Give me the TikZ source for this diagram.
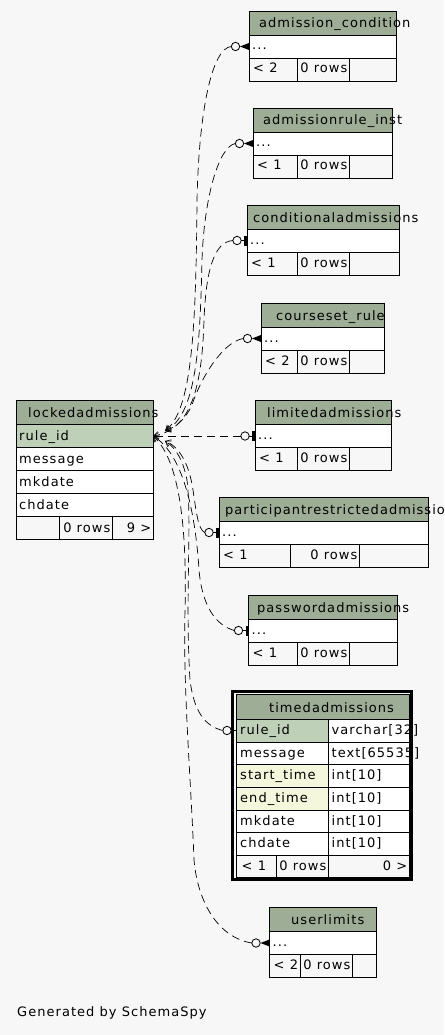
\documentclass[tikz,border=0pt]{standalone}
\usepackage{fontspec}
\setmainfont{DejaVu Sans}[LetterSpace=8]
\usetikzlibrary{arrows.meta,calc}
\definecolor{bg}{HTML}{F7F7F7}
\definecolor{hdr}{HTML}{9EAD96}
\definecolor{keyc}{HTML}{BED1B8}
\definecolor{idxc}{HTML}{F4F7DC}
\tikzset{
  tx/.style={anchor=base west, inner sep=0pt, font=\fontsize{13}{15}\selectfont},
  txr/.style={anchor=base east, inner sep=0pt, font=\fontsize{13}{15}\selectfont},
  cell/.style={draw=black, line width=0.8pt},
  rel/.style={draw=black, line width=0.7pt, dash pattern=on 8pt off 5pt,
    -{Straight Barb[length=5pt,width=7pt,line width=0.6pt]}},
  mk/.style={draw=black, line width=0.8pt, fill=bg},
}
% #1 name #2 left #3 right #4 top #5 split1 #6 split2 #7 title #8 title x #9 footer text
\newcommand\ertab[9]{%
  \fill[hdr] (#2,#4) rectangle (#3,#4+24);
  \fill[white] (#2,#4+24) rectangle (#3,#4+47);
  \draw[cell] (#2,#4) rectangle (#3,#4+70);
  \draw[cell] (#2,#4+24) -- (#3,#4+24) (#2,#4+47) -- (#3,#4+47)
    (#5,#4+47) -- (#5,#4+70) (#6,#4+47) -- (#6,#4+70);
  \node[tx] (#1-h) at (#8,#4+17) {#7};
  \node[tx] (#1-r) at (#2+3,#4+39) {...};
  \node[tx] (#1-f1) at (#2+4,#4+62) {#9};
  \node[txr] (#1-f2) at (#6-1.5,#4+62) {0 rows};
  \coordinate (#1-in) at (#2,#4+35.5);
}
\newcommand\crowmk[1]{%
  \fill ($(#1-in)+(-9,0)$) -- ($(#1-in)+(0,-3.5)$) -- ($(#1-in)+(0,3.5)$) -- cycle;
  \draw[mk] ($(#1-in)+(-13.5,0)$) circle[radius=4.2pt];
  \coordinate (#1-c) at ($(#1-in)+(-17.7,0)$);
}
\newcommand\teemk[1]{%
  \fill ($(#1-in)+(-3,-5)$) rectangle ($(#1-in)+(0,5)$);
  \draw[black,line width=0.8pt] ($(#1-in)+(-6,0)$) -- ($(#1-in)+(-3,0)$);
  \draw[mk] ($(#1-in)+(-10,0)$) circle[radius=4.2pt];
  \coordinate (#1-c) at ($(#1-in)+(-14.2,0)$);
}
\begin{document}
\begin{tikzpicture}[x=1pt,y=-1pt]
\useasboundingbox (0,0) rectangle (444,1035);
\fill[bg] (0,0) rectangle (444,1035);

% lockedadmissions
\fill[hdr] (16,400) rectangle (153,424.5);
\fill[keyc] (16,424.5) rectangle (153,447);
\fill[white] (16,447) rectangle (153,516);
\draw[cell] (16,400) rectangle (153,539);
\draw[cell] (16,424.5) -- (153,424.5) (16,447) -- (153,447) (16,470) -- (153,470)
  (16,493) -- (153,493) (16,516) -- (153,516) (59,516) -- (59,539) (112,516) -- (112,539);
\node[tx] (lk-h) at (28,417) {lockedadmissions};
\node[tx] (lk-1) at (19,440) {rule\_id};
\node[tx] (lk-2) at (19,463) {message};
\node[tx] (lk-3) at (19,486) {mkdate};
\node[tx] (lk-4) at (19,509) {chdate};
\node[txr] (lk-f2) at (110.5,532) {0 rows};
\node[txr] (lk-f3) at (151.5,532) {9 >};
\coordinate (lk-out) at (153,436);
\coordinate (lk-up) at (165,431);
\coordinate (lk-dn) at (165,441);

% small tables
\ertab{ac}{249}{396}{11}{297}{349}{admission\_condition}{259}{< 2}
\ertab{ari}{253}{392}{108}{297}{349}{admissionrule\_inst}{263}{< 1}
\ertab{ca}{247}{399}{205}{297}{349}{conditionaladmissions}{253}{< 1}
\ertab{cr}{261}{384}{303}{297}{349}{courseset\_rule}{276}{< 2}
\ertab{la}{255}{391}{400.5}{297}{349}{limitedadmissions}{267}{< 1}
\ertab{pra}{219}{428}{497}{290}{359}{participantrestrictedadmissions}{225}{< 1}
\ertab{pa}{248.5}{397}{595}{297}{349}{passwordadmissions}{257}{< 1}
\ertab{ul}{269.5}{376}{907.5}{300.5}{352}{userlimits}{291}{< 2}

% timedadmissions
\fill[hdr] (236.5,694.5) rectangle (409,719);
\fill[keyc] (236.5,719) rectangle (328.5,742);
\fill[idxc] (236.5,764.5) rectangle (328.5,810);
\fill[white] (328.5,719) rectangle (409,855);
\fill[white] (236.5,742) rectangle (328.5,764.5);
\fill[white] (236.5,810) rectangle (328.5,855);
\draw[cell] (236.5,694.5) rectangle (409,877);
\draw[cell] (236.5,719) -- (409,719) (236.5,742) -- (409,742) (236.5,764.5) -- (409,764.5)
  (236.5,787) -- (409,787) (236.5,810) -- (409,810) (236.5,832.5) -- (409,832.5)
  (236.5,855) -- (409,855) (328.5,719) -- (328.5,877) (276,855) -- (276,877);
\node[tx] (ta-h) at (269,712) {timedadmissions};
\node[tx] (ta-1a) at (240,734) {rule\_id};
\node[tx] (ta-1b) at (331.5,734) {varchar[32]};
\node[tx] (ta-2a) at (240,757) {message};
\node[tx] (ta-2b) at (331.5,757) {text[65535]};
\node[tx] (ta-3a) at (240,779.5) {start\_time};
\node[tx] (ta-3b) at (331.5,779.5) {int[10]};
\node[tx] (ta-4a) at (240,802) {end\_time};
\node[tx] (ta-4b) at (331.5,802) {int[10]};
\node[tx] (ta-5a) at (240,825) {mkdate};
\node[tx] (ta-5b) at (331.5,825) {int[10]};
\node[tx] (ta-6a) at (240,847.5) {chdate};
\node[tx] (ta-6b) at (331.5,847.5) {int[10]};
\node[tx] (ta-f1) at (241.5,870) {< 1};
\node[txr] (ta-f2) at (326.5,870) {0 rows};
\node[txr] (ta-f3) at (407.5,870) {0 >};
\draw[line width=2.5pt] (232.5,691.5) rectangle (411.5,879.5);
\coordinate (ta-in) at (236.5,730.5);

% markers
\crowmk{ac}
\crowmk{ari}
\teemk{ca}
\crowmk{cr}
\teemk{la}
\teemk{pra}
\teemk{pa}
\crowmk{ul}
\draw[black,line width=0.8pt] ($(ta-in)+(-5.5,0)$) -- (ta-in);
\fill ($(ta-in)+(-5.5,-3.5)$) rectangle ($(ta-in)+(-4,3.5)$);
\draw[mk] ($(ta-in)+(-9.5,0)$) circle[radius=4.2pt];
\coordinate (ta-c) at ($(ta-in)+(-13.7,0)$);

% connectors
\draw[rel] (ac-c) .. controls (212,48) and (199,110) .. (197,200) .. controls (196,330) and (192,410) .. (lk-up);
\draw[rel] (ari-c) .. controls (218,147) and (204,200) .. (202,260) .. controls (200,350) and (196,415) .. (lk-up);
\draw[rel] (ca-c) .. controls (214,242) and (206,270) .. (204,320) .. controls (202,390) and (190,430) .. (lk-out);
\draw[rel] (cr-c) .. controls (222,342) and (200,380) .. (192,405) .. controls (186,418) and (178,426) .. (lk-up);
\draw[rel] (la-c) -- (lk-out);
\draw[rel] (pra-c) .. controls (198,530) and (196,510) .. (193,490) .. controls (189,462) and (178,446) .. (lk-dn);
\draw[rel] (pa-c) .. controls (215,625) and (202,605) .. (199,570) .. controls (196,520) and (185,455) .. (lk-out);
\draw[rel] (ta-c) .. controls (205,726) and (194,712) .. (190,680) .. controls (185,600) and (192,520) .. (187,480) .. controls (183,460) and (176,448) .. (lk-dn);
\draw[rel] (ul-c) .. controls (220,938) and (198,905) .. (194,860) .. controls (191,780) and (183,690) .. (185,610) .. controls (187,530) and (180,460) .. (lk-out);

\node[tx] (gen) at (17,1016) {Generated by SchemaSpy};
\end{tikzpicture}
\end{document}
